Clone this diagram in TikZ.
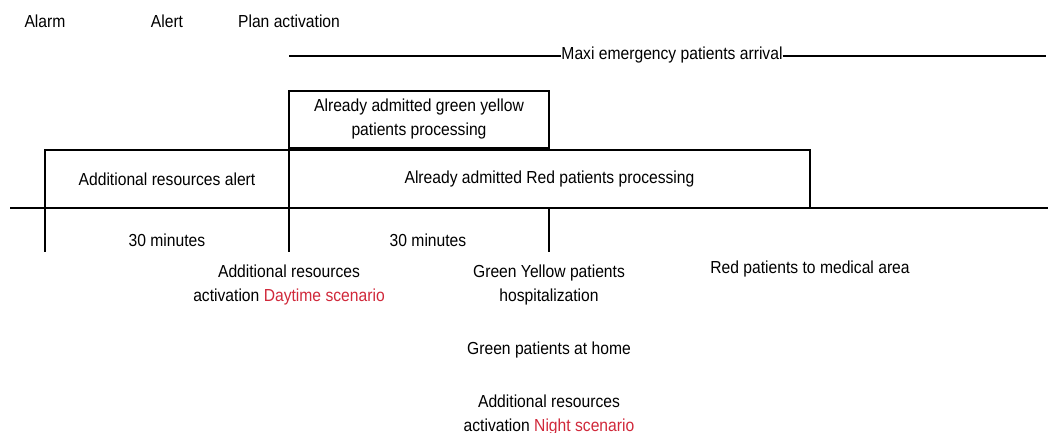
\documentclass[tikz,border=0pt]{standalone}
\usepackage{fontspec}
\setmainfont{Liberation Sans}[FakeStretch=0.9]
\usetikzlibrary{positioning}

\definecolor{scenred}{RGB}{208,40,58}

\tikzset{
  box/.style={draw, line width=1.5pt, inner sep=0pt, align=center},
  lbl/.style={align=center, inner sep=1pt},
  rule/.style={line width=1.5pt}
}

\begin{document}
\begin{tikzpicture}[x=1pt, y=-1pt, font=\fontsize{17.4}{24}\selectfont]
    \useasboundingbox (0,0) rectangle (1048,433);

    % phases on top
    \node[lbl] (alarm) at (45,21) {Alarm};
    \node[lbl] (alert) at (167,21) {Alert};
    \node[lbl] (plan) at (289,21) {Plan activation};

    % arrival line
    \coordinate (arrS) at (289,56);
    \coordinate (arrE) at (1046,56);
    \node[lbl, inner sep=0pt] (maxi) at (672,55.5) {Maxi emergency patients arrival};
    \draw[rule] (arrS) -- (arrS -| maxi.west);
    \draw[rule] (arrE -| maxi.east) -- (arrE);

    % processing boxes
    \node[box, minimum width=260pt, minimum height=57pt] (gy) at (419,119.5)
        {Already admitted green yellow\\patients processing};
    \node[box, minimum width=244pt, minimum height=58pt] (addalert) at (167,179)
        {Additional resources alert};
    \node[box, minimum width=521pt, minimum height=58pt] (red) at (549.5,179)
        {Already admitted Red patients processing};

    % time axis
    \coordinate (axS) at (10,208);
    \coordinate (axE) at (1048,208);
    \draw[rule] (axS) -- (axE);

    \coordinate (t0) at (45,208);
    \coordinate (t1) at (289,208);
    \coordinate (t2) at (549,208);
    \foreach \t in {t0,t1,t2}
        \draw[rule] (\t) -- ++(0,44);

    \node[lbl] (min1) at (167,240) {30 minutes};
    \node[lbl] (min2) at (428,240) {30 minutes};

    % outcomes
    \node[lbl] (day) at (289,284.5)
        {Additional resources\\activation \textcolor{scenred}{Daytime scenario}};
    \node[lbl] (hosp) at (549,284.5) {Green Yellow patients\\hospitalization};
    \node[lbl] (medical) at (810,268.5) {Red patients to medical area};
    \node[lbl] (home) at (549,349.5) {Green patients at home};
    \node[lbl] (night) at (549,414.5)
        {Additional resources\\activation \textcolor{scenred}{Night scenario}};
\end{tikzpicture}
\end{document}
